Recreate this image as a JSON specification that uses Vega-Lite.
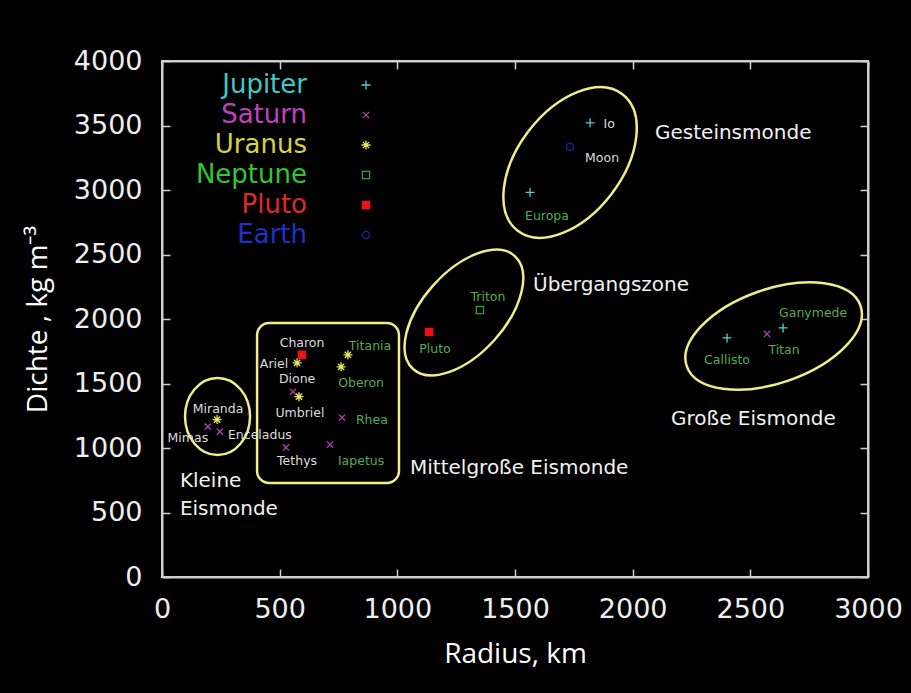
{
  "$schema": "https://vega.github.io/schema/vega-lite/v6.json",
  "width": 706,
  "height": 516,
  "autosize": {"type": "none"},
  "padding": {"left": 162, "top": 61, "right": 43, "bottom": 116},
  "background": "#000000",
  "config": {
    "view": {"stroke": "#cfcfcf", "strokeWidth": 2},
    "axis": {"grid": false, "domainColor": "#cfcfcf", "domainWidth": 2, "tickColor": "#cfcfcf", "tickWidth": 1.5}
  },
  "datasets": {
    "moons": [
      {"name": "Io", "planet": "Jupiter", "radius": 1819, "density": 3521},
      {"name": "Europa", "planet": "Jupiter", "radius": 1564, "density": 2981},
      {"name": "Ganymede", "planet": "Jupiter", "radius": 2639, "density": 1931},
      {"name": "Callisto", "planet": "Jupiter", "radius": 2401, "density": 1853},
      {"name": "Titan", "planet": "Saturn", "radius": 2571, "density": 1884},
      {"name": "Rhea", "planet": "Saturn", "radius": 765, "density": 1236},
      {"name": "Iapetus", "planet": "Saturn", "radius": 714, "density": 1027},
      {"name": "Dione", "planet": "Saturn", "radius": 557, "density": 1436},
      {"name": "Tethys", "planet": "Saturn", "radius": 527, "density": 1004},
      {"name": "Enceladus", "planet": "Saturn", "radius": 246, "density": 1127},
      {"name": "Mimas", "planet": "Saturn", "radius": 195, "density": 1166},
      {"name": "Titania", "planet": "Uranus", "radius": 790, "density": 1722},
      {"name": "Oberon", "planet": "Uranus", "radius": 761, "density": 1629},
      {"name": "Ariel", "planet": "Uranus", "radius": 574, "density": 1660},
      {"name": "Umbriel", "planet": "Uranus", "radius": 582, "density": 1398},
      {"name": "Miranda", "planet": "Uranus", "radius": 234, "density": 1220},
      {"name": "Triton", "planet": "Neptune", "radius": 1351, "density": 2069},
      {"name": "Pluto", "planet": "Pluto", "radius": 1135, "density": 1900},
      {"name": "Charon", "planet": "Pluto", "radius": 595, "density": 1722},
      {"name": "Moon", "planet": "Earth", "radius": 1734, "density": 3336}
    ],
    "labels": [
      {"name": "Io", "radius": 1900, "density": 3514},
      {"name": "Moon", "radius": 1870, "density": 3251},
      {"name": "Europa", "radius": 1636, "density": 2795},
      {"name": "Triton", "radius": 1385, "density": 2170},
      {"name": "Pluto", "radius": 1160, "density": 1768},
      {"name": "Ganymede", "radius": 2767, "density": 2046},
      {"name": "Titan", "radius": 2643, "density": 1761},
      {"name": "Callisto", "radius": 2401, "density": 1683},
      {"name": "Charon", "radius": 595, "density": 1815},
      {"name": "Titania", "radius": 884, "density": 1792},
      {"name": "Ariel", "radius": 476, "density": 1653},
      {"name": "Dione", "radius": 574, "density": 1537},
      {"name": "Oberon", "radius": 846, "density": 1506},
      {"name": "Umbriel", "radius": 586, "density": 1274},
      {"name": "Rhea", "radius": 892, "density": 1220},
      {"name": "Miranda", "radius": 238, "density": 1305},
      {"name": "Mimas", "radius": 110, "density": 1081},
      {"name": "Enceladus", "radius": 416, "density": 1104},
      {"name": "Tethys", "radius": 574, "density": 903},
      {"name": "Iapetus", "radius": 846, "density": 903}
    ],
    "groups": [
      {"text": "Gesteinsmonde", "radius": 2095, "density": 3442},
      {"text": "Übergangszone", "radius": 1577, "density": 2264},
      {"text": "Große Eismonde", "radius": 2163, "density": 1225},
      {"text": "Mittelgroße Eismonde", "radius": 1054, "density": 845},
      {"text": "Kleine", "radius": 76, "density": 744},
      {"text": "Eismonde", "radius": 76, "density": 527}
    ],
    "zones": [
      {"zone": "Gesteinsmonde", "radius": 1734, "density": 3213},
      {"zone": "Übergangszone", "radius": 1283, "density": 2050},
      {"zone": "Große Eismonde", "radius": 2599, "density": 1868},
      {"zone": "Kleine Eismonde", "radius": 236, "density": 1244}
    ],
    "box": [
      {"zone": "Mittelgroße Eismonde", "r1": 404, "r2": 1007, "d1": 1969, "d2": 729}
    ]
  },
  "layer": [
    {
      "data": {"name": "zones"},
      "transform": [{"filter": "datum.zone === 'Gesteinsmonde'"}],
      "mark": {"type": "point", "shape": "M-1,0A1,0.605,0,0,1,0,-0.605A1,0.605,0,0,1,1,0A1,0.605,0,0,1,0,0.605A1,0.605,0,0,1,-1,0Z", "size": 29584, "angle": 307.5, "filled": false, "stroke": "#eeee88", "strokeWidth": 2.5, "opacity": 1},
      "encoding": {
        "x": {"field": "radius", "type": "quantitative", "scale": {"domain": [0, 3000], "nice": false, "zero": false}, "axis": null},
        "y": {"field": "density", "type": "quantitative", "scale": {"domain": [0, 4000], "nice": false, "zero": false}, "axis": null}
      }
    },
    {
      "data": {"name": "zones"},
      "transform": [{"filter": "datum.zone === 'Übergangszone'"}],
      "mark": {"type": "point", "shape": "M-1,0A1,0.54,0,0,1,0,-0.54A1,0.54,0,0,1,1,0A1,0.54,0,0,1,0,0.54A1,0.54,0,0,1,-1,0Z", "size": 23104, "angle": 312, "filled": false, "stroke": "#eeee88", "strokeWidth": 2.5, "opacity": 1},
      "encoding": {
        "x": {"field": "radius", "type": "quantitative", "scale": {"domain": [0, 3000], "nice": false, "zero": false}, "axis": null},
        "y": {"field": "density", "type": "quantitative", "scale": {"domain": [0, 4000], "nice": false, "zero": false}, "axis": null}
      }
    },
    {
      "data": {"name": "zones"},
      "transform": [{"filter": "datum.zone === 'Große Eismonde'"}],
      "mark": {"type": "point", "shape": "M-1,0A1,0.51,0,0,1,0,-0.51A1,0.51,0,0,1,1,0A1,0.51,0,0,1,0,0.51A1,0.51,0,0,1,-1,0Z", "size": 33856, "angle": 340.7, "filled": false, "stroke": "#eeee88", "strokeWidth": 2.5, "opacity": 1},
      "encoding": {
        "x": {"field": "radius", "type": "quantitative", "scale": {"domain": [0, 3000], "nice": false, "zero": false}, "axis": null},
        "y": {"field": "density", "type": "quantitative", "scale": {"domain": [0, 4000], "nice": false, "zero": false}, "axis": null}
      }
    },
    {
      "data": {"name": "zones"},
      "transform": [{"filter": "datum.zone === 'Kleine Eismonde'"}],
      "mark": {"type": "point", "shape": "M-1,0A1,0.844,0,0,1,0,-0.844A1,0.844,0,0,1,1,0A1,0.844,0,0,1,0,0.844A1,0.844,0,0,1,-1,0Z", "size": 5929, "angle": 90, "filled": false, "stroke": "#eeee88", "strokeWidth": 2.5, "opacity": 1},
      "encoding": {
        "x": {"field": "radius", "type": "quantitative", "scale": {"domain": [0, 3000], "nice": false, "zero": false}, "axis": null},
        "y": {"field": "density", "type": "quantitative", "scale": {"domain": [0, 4000], "nice": false, "zero": false}, "axis": null}
      }
    },
    {
      "data": {"name": "box"},
      "mark": {"type": "rect", "cornerRadius": 12, "fill": "transparent", "stroke": "#eeee88", "strokeWidth": 2.5},
      "encoding": {
        "x": {"field": "r1", "type": "quantitative", "scale": {"domain": [0, 3000], "nice": false, "zero": false}, "axis": null},
        "x2": {"field": "r2"},
        "y": {"field": "d1", "type": "quantitative", "scale": {"domain": [0, 4000], "nice": false, "zero": false}, "axis": null},
        "y2": {"field": "d2"}
      }
    },
    {
      "data": {"name": "groups"},
      "mark": {"type": "text", "align": "left", "baseline": "middle", "font": "DejaVu Sans", "fontSize": 20, "color": "#f0f0f0"},
      "encoding": {
        "x": {"field": "radius", "type": "quantitative", "scale": {"domain": [0, 3000], "nice": false, "zero": false}, "axis": null},
        "y": {"field": "density", "type": "quantitative", "scale": {"domain": [0, 4000], "nice": false, "zero": false}, "axis": null},
        "text": {"field": "text"}
      }
    },
    {
      "data": {"name": "moons"},
      "mark": {"type": "point", "size": 81, "strokeWidth": 1.3, "filled": true, "opacity": 1},
      "encoding": {
        "x": {"field": "radius", "type": "quantitative", "scale": {"domain": [0, 3000], "nice": false, "zero": false},
          "axis": {"orient": "bottom", "values": [0, 500, 1000, 1500, 2000, 2500, 3000], "format": "d", "tickSize": -8, "labelPadding": 27, "labelColor": "#eeeeee", "labelFont": "DejaVu Sans", "labelFontSize": 27, "labelFlush": false, "labelOverlap": false, "title": "Radius, km", "titleColor": "#ffffff", "titleFont": "Open Sans", "titleFontSize": 28, "titleFontWeight": "normal", "titlePadding": 18}},
        "y": {"field": "density", "type": "quantitative", "scale": {"domain": [0, 4000], "nice": false, "zero": false},
          "axis": {"orient": "left", "values": [0, 500, 1000, 1500, 2000, 2500, 3000, 3500, 4000], "format": "d", "tickSize": -8, "labelPadding": 28, "labelColor": "#eeeeee", "labelFont": "DejaVu Sans", "labelFontSize": 27, "labelFlush": false, "labelOverlap": false, "title": "Dichte , kg m⁻³", "titleColor": "#ffffff", "titleFont": "Open Sans", "titleFontSize": 28, "titleFontWeight": "normal", "titlePadding": 21}},
        "stroke": {"field": "planet", "type": "nominal",
          "scale": {"domain": ["Jupiter", "Saturn", "Uranus", "Neptune", "Pluto", "Earth"], "range": ["#55d0d0", "#b040b0", "#e8e860", "#3a9a3a", "#ee1111", "#2020a0"]},
          "legend": {"orient": "none", "legendX": 191, "legendY": 11, "title": null, "direction": "vertical", "padding": 0, "labelFont": "DejaVu Sans", "labelFontSize": 26, "labelAlign": "right", "labelOffset": -72, "labelLimit": 300, "rowPadding": 4, "symbolSize": 81, "symbolStrokeWidth": 1.3,
            "labelColor": {"expr": "datum.value === 'Jupiter' ? '#40c8c8' : datum.value === 'Saturn' ? '#c040c0' : datum.value === 'Uranus' ? '#d8d048' : datum.value === 'Neptune' ? '#30c830' : datum.value === 'Pluto' ? '#e02828' : '#2030c8'"}}},
        "fill": {"field": "planet", "type": "nominal",
          "scale": {"domain": ["Jupiter", "Saturn", "Uranus", "Neptune", "Pluto", "Earth"], "range": ["transparent", "transparent", "transparent", "transparent", "#ee1111", "transparent"]}},
        "shape": {"field": "planet", "type": "nominal",
          "scale": {"domain": ["Jupiter", "Saturn", "Uranus", "Neptune", "Pluto", "Earth"], "range": [
            "M-1,0L1,0M0,-1L0,1",
            "M-0.7,-0.7L0.7,0.7M-0.7,0.7L0.7,-0.7",
            "M-1,0L1,0M0,-1L0,1M-0.7,-0.7L0.7,0.7M-0.7,0.7L0.7,-0.7",
            "M-0.8,-0.8L0.8,-0.8L0.8,0.8L-0.8,0.8Z",
            "M-0.8,-0.8L0.8,-0.8L0.8,0.8L-0.8,0.8Z",
            "M-0.8,0A0.8,0.8,0,0,1,0,-0.8A0.8,0.8,0,0,1,0.8,0A0.8,0.8,0,0,1,0,0.8A0.8,0.8,0,0,1,-0.8,0Z"
          ]}}
      }
    },
    {
      "data": {"name": "labels"},
      "mark": {"type": "text", "align": "center", "baseline": "middle", "font": "DejaVu Sans", "fontSize": 12.5},
      "encoding": {
        "x": {"field": "radius", "type": "quantitative", "scale": {"domain": [0, 3000], "nice": false, "zero": false},
          "axis": {"orient": "top", "values": [0, 500, 1000, 1500, 2000, 2500, 3000], "tickSize": -8, "labels": false, "title": null}},
        "y": {"field": "density", "type": "quantitative", "scale": {"domain": [0, 4000], "nice": false, "zero": false},
          "axis": {"orient": "right", "values": [0, 500, 1000, 1500, 2000, 2500, 3000, 3500, 4000], "tickSize": -8, "labels": false, "title": null}},
        "text": {"field": "name"},
        "color": {"condition": {"test": "indexof(['Europa','Triton','Pluto','Ganymede','Titan','Callisto','Titania','Oberon','Rhea','Iapetus'], datum.name) >= 0", "value": "#55aa55"}, "value": "#dddddd"}
      }
    }
  ],
  "resolve": {"axis": {"x": "independent", "y": "independent"}}
}
